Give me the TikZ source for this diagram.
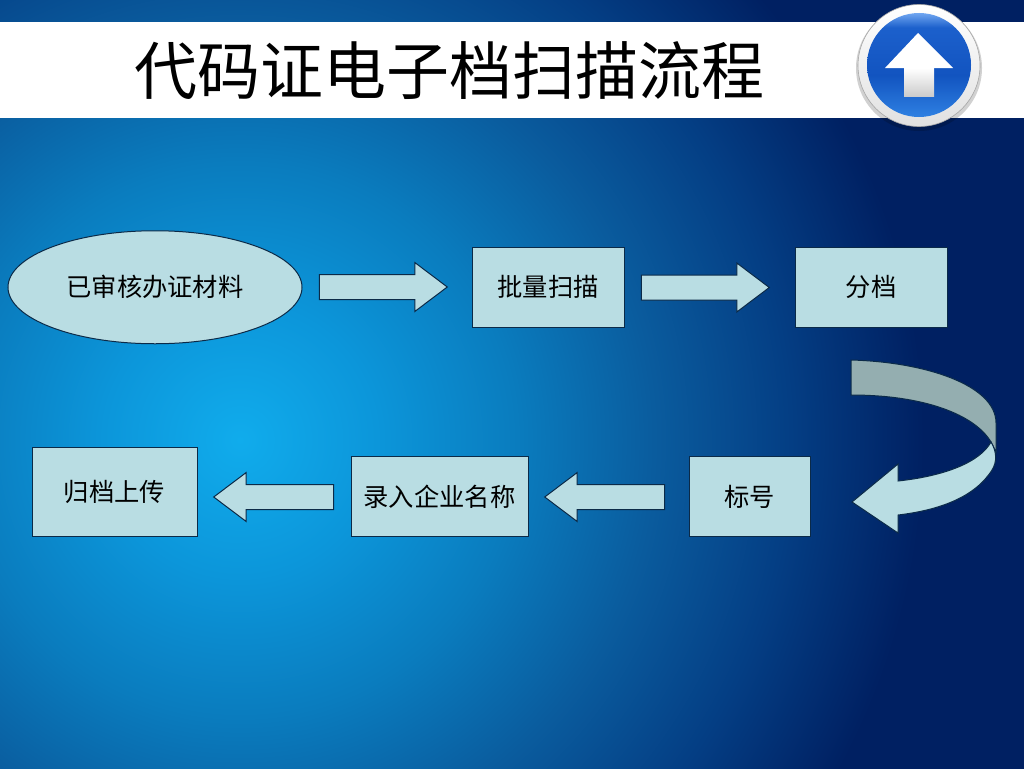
\documentclass[tikz,border=0pt]{standalone}
\usepackage{fontspec}
\setmainfont{Noto Sans CJK SC}
\usetikzlibrary{arrows,shapes.geometric,shapes.arrows}

\definecolor{boxfill}{HTML}{B9DDE3}
\definecolor{boxline}{HTML}{0B2A48}
\definecolor{backfill}{HTML}{94AEB0}
\definecolor{glowa}{HTML}{10ACEC}
\definecolor{glowb}{HTML}{0C96DA}
\definecolor{glowc}{HTML}{0A7CBE}
\definecolor{glowd}{HTML}{0A5C9E}
\definecolor{glowe}{HTML}{043E84}
\definecolor{glowf}{HTML}{002062}
\definecolor{icona}{HTML}{2E80E2}
\definecolor{iconb}{HTML}{1254C0}
\definecolor{iconc}{HTML}{1C60CC}
\definecolor{icond}{HTML}{70A6F0}

\pgfdeclareradialshading{bgglow}{\pgfpoint{0bp}{0bp}}{
  color(0bp)=(glowa);
  color(3.8bp)=(glowb);
  color(7.7bp)=(glowc);
  color(11.5bp)=(glowd);
  color(15.3bp)=(glowe);
  color(19bp)=(glowf);
  color(50bp)=(glowf)}
\pgfdeclareverticalshading{iconblue}{100bp}{
  color(0bp)=(icona);
  color(25bp)=(icona);
  color(45bp)=(iconb);
  color(68bp)=(iconc);
  color(75bp)=(icond);
  color(100bp)=(icond)}

\begin{document}
\begin{tikzpicture}[x=1pt,y=-1pt,
                    font=\fontsize{25.3pt}{25.3pt}\selectfont,inner sep=0pt]
  \tikzstyle{procbox}=[rectangle,draw=boxline,fill=boxfill,line width=1pt,minimum height=80pt]
  \tikzstyle{startnode}=[ellipse,draw=boxline,fill=boxfill,line width=1pt,minimum width=294pt,minimum height=113pt]
  \tikzstyle{blockarrow}=[single arrow,draw=boxline,fill=boxfill,line width=1pt,
                          minimum height=128pt,minimum width=48pt,inner ysep=12pt,
                          single arrow head extend=12pt,single arrow head indent=0pt,
                          single arrow tip angle=74]
  \tikzstyle{backarrow}=[blockarrow,shape border rotate=180,minimum height=120pt]

  \useasboundingbox (0,0) rectangle (1024,768);
  \clip (0,0) rectangle (1024,768);

  \shade[shading=bgglow] (240,440) circle (900pt);
  \fill[white] (0,22) rectangle (1024,118);

  \node (title) at (449,71) {\fontsize{63pt}{63pt}\selectfont 代码证电子档扫描流程};

  \fill[black,opacity=.18] (919,68) circle (63pt);
  \shade[top color=white,bottom color=black!12] (919,65.5) circle (61pt);
  \draw[black!35,line width=.6pt] (919,65.5) circle (61pt);
  \shade[shading=iconblue] (919,65) circle (52pt);
  \fill[white] (918,33) -- (953,68) -- (885,68) -- cycle;
  \shade[top color=white,bottom color=black!20] (904,68) rectangle (934,96);

  \node[startnode] (material) at (155,287.25) {已审核办证材料};
  \node[procbox,minimum width=152pt,right of=material,node distance=393pt] (scan) {批量扫描};
  \node[procbox,minimum width=152pt,right of=scan,node distance=323pt] (sort) {分档};
  \node[procbox,minimum width=121pt,below of=sort,node distance=209.5pt,xshift=-121.5pt] (mark) {标号};
  \node[procbox,minimum width=177pt,left of=mark,node distance=310pt] (entry) {录入企业名称};
  \node[procbox,minimum width=165pt,minimum height=89pt,left of=entry,node distance=325pt,yshift=4.5pt] (upload) {归档上传};

  \node[blockarrow] (arrowa) at (375,287) {};
  \node[blockarrow] (arrowb) at (697,287.5) {};
  \node[backarrow] (arrowc) at (613,497) {};
  \node[backarrow] (arrowd) at (282,497) {};

  \draw[boxline,fill=backfill,line width=1pt] (851,360) .. controls (925,362) and (996,385) .. (996,423)
    -- (996,452) -- (991,442) .. controls (975,415) and (925,395) .. (851,395) -- cycle;
  \draw[boxline,fill=boxfill,line width=1pt] (991,442) .. controls (997,452) and (997,462) .. (992,470)
    .. controls (975,497) and (940,510) .. (898,515) -- (898,533) -- (852,502) -- (898,464) -- (898,481)
    .. controls (945,476) and (980,462) .. (991,442) -- cycle;
\end{tikzpicture}
\end{document}
